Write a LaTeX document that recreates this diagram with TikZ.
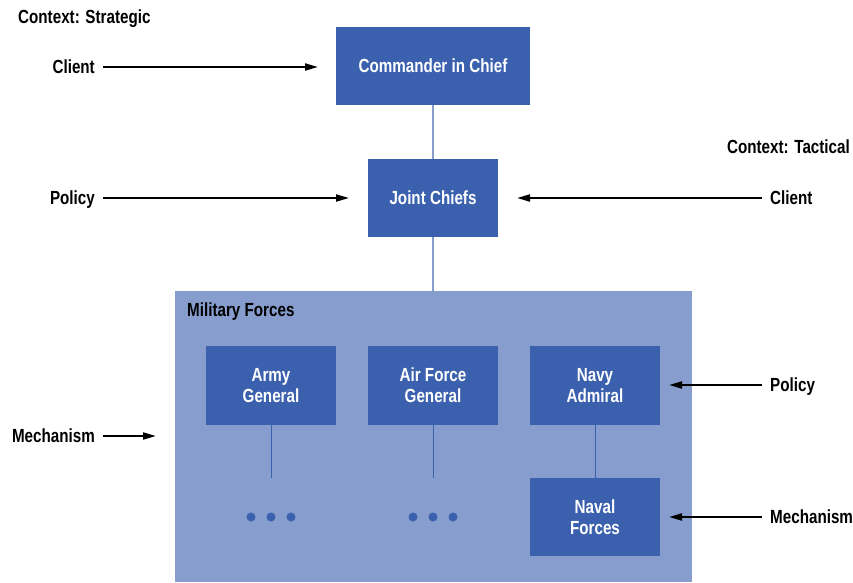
\documentclass[tikz,border=0pt]{standalone}
\usepackage{fontspec}
\setmainfont{Liberation Sans}[FakeStretch=0.8]
\usetikzlibrary{arrows.meta}
\definecolor{boxblue}{HTML}{3A60AE}
\definecolor{paleblue}{HTML}{869DCE}
\tikzset{
  unitbox/.style={fill=boxblue, draw=none, text=white, align=center,
    font=\fontsize{19}{21}\selectfont\bfseries, inner sep=0pt},
  lbl/.style={font=\fontsize{19}{21}\selectfont\bfseries, inner sep=0pt},
  feed/.style={line width=2pt, -{Triangle[length=13pt,width=7pt]}, shorten <=8pt},
  tie/.style={line width=1pt, boxblue},
  dot/.style={circle, fill=boxblue, inner sep=0pt, minimum size=9pt},
}
\begin{document}
\begin{tikzpicture}[x=1pt,y=-1pt]
\useasboundingbox (0,0) rectangle (853,582);

% top-level units
\node[unitbox, minimum width=194pt, minimum height=78pt] (cinc) at (433,66) {Commander in Chief};
\node[unitbox, minimum width=130pt, minimum height=78pt] (jc) at (433,198) {Joint Chiefs};

% military forces container
\node[fill=paleblue, minimum width=517pt, minimum height=291pt, inner sep=0pt, anchor=north west] (mf) at (175,291) {};
\node[lbl, anchor=west] (mflbl) at (187,311.5) {Military Forces};

\draw[line width=1.2pt, paleblue] (cinc.south) -- (jc.north);
\draw[line width=1.2pt, paleblue] (jc.south) -- (mf.north -| jc.south);

% service branches
\node[unitbox, minimum width=130pt, minimum height=79pt] (army) at (271,385.5) {Army\\General};
\node[unitbox, minimum width=130pt, minimum height=79pt] (air) at (433,385.5) {Air Force\\General};
\node[unitbox, minimum width=130pt, minimum height=79pt] (navy) at (595,385.5) {Navy\\Admiral};
\node[unitbox, minimum width=130pt, minimum height=78pt] (naval) at (595,517) {Naval\\Forces};

\coordinate (armyend) at (271,478);
\coordinate (airend) at (433,478);
\draw[tie] (army.south) -- (armyend);
\draw[tie] (air.south) -- (airend);
\draw[tie] (navy.south) -- (naval.north);

\node[dot] (ad1) at (251,517) {};
\node[dot] (ad2) at (271,517) {};
\node[dot] (ad3) at (291,517) {};
\node[dot] (fd1) at (413,517) {};
\node[dot] (fd2) at (433,517) {};
\node[dot] (fd3) at (453,517) {};

% context labels
\node[lbl, anchor=west] (ctxs) at (18,18.5) {Context: Strategic};
\node[lbl, anchor=east] (ctxt) at (850,146.5) {Context: Tactical};

% incoming roles
\node[lbl, anchor=east] (clientL) at (95,67) {Client};
\node[lbl, anchor=east] (policyL) at (95,200) {Policy};
\node[lbl, anchor=east] (mechL) at (95,436) {Mechanism};
\node[lbl, anchor=west] (clientR) at (770,198) {Client};
\node[lbl, anchor=west] (policyR) at (770,387) {Policy};
\node[lbl, anchor=west] (mechR) at (770,517) {Mechanism};

\coordinate (tCinc) at (318,67);
\coordinate (tJcL) at (349,198);
\coordinate (tMf) at (156,436);
\coordinate (tJcR) at (517,198);
\coordinate (tNavy) at (669,385);
\coordinate (tNaval) at (669,517);

\draw[feed] (clientL.east) -- (tCinc);
\draw[feed] (policyL.east |- tJcL) -- (tJcL);
\draw[feed] (mechL.east) -- (tMf);
\draw[feed] (clientR.west) -- (tJcR);
\draw[feed] (policyR.west |- tNavy) -- (tNavy);
\draw[feed] (mechR.west) -- (tNaval);
\end{tikzpicture}
\end{document}
